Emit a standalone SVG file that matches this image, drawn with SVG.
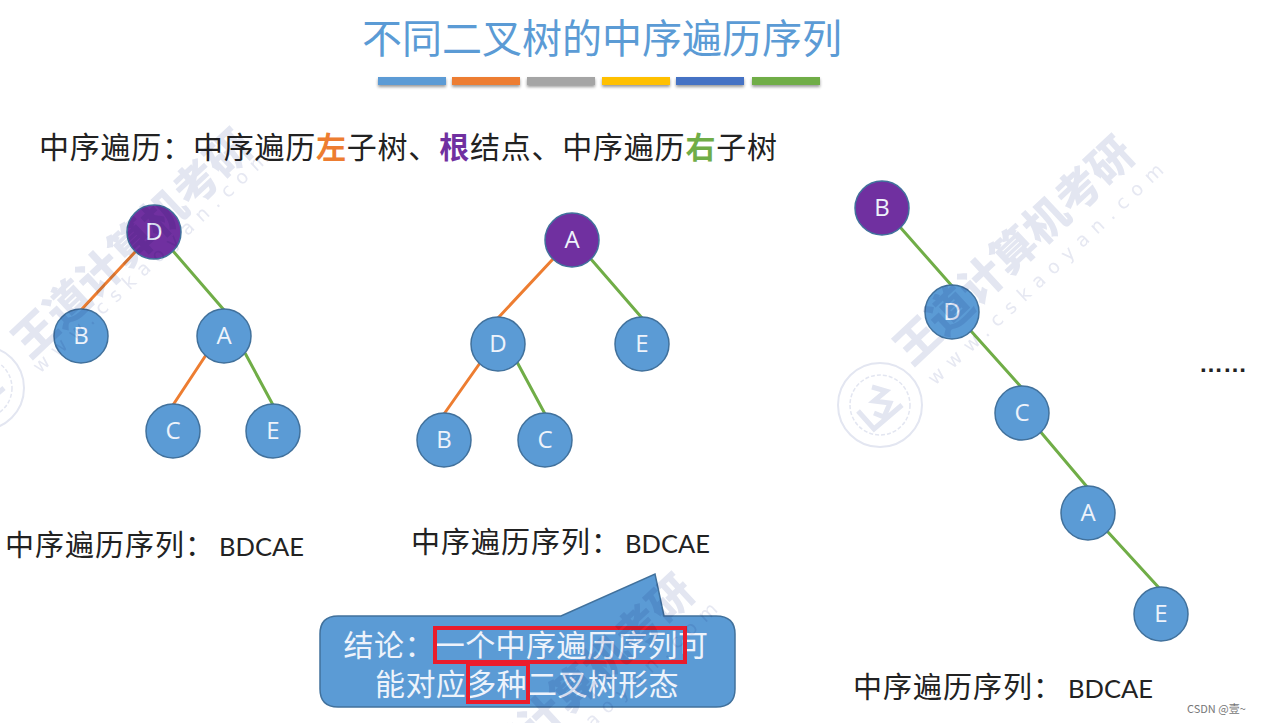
<svg xmlns="http://www.w3.org/2000/svg" width="1268" height="723" viewBox="0 0 1268 723">
<style>
text{font-family:"Noto Sans CJK SC","Noto Sans",sans-serif}
#watermarks{mix-blend-mode:multiply}
.wm{fill:#e3e6f1;font-size:44px;font-weight:900}
.wu{fill:#e6e8f2;font-size:19px;letter-spacing:8.5px;font-family:"DejaVu Sans",sans-serif}
.seal{fill:none;stroke:#e3e6f1}
.bar{filter:url(#sh)}
.n circle{stroke:#41719c;stroke-width:1.5}
.blue circle{fill:#5b9bd5}
.pur circle{fill:#7030a0}
.n text{fill:#eef3fb;font-size:24px;text-anchor:middle;font-family:"Open Sans",sans-serif}
.o{stroke:#ed7d31;stroke-width:3;fill:none}
.g{stroke:#70ad47;stroke-width:3;fill:none}
.cap{font-size:29px;letter-spacing:1px;fill:#222}
.la{font-family:Lato,sans-serif;font-size:25.5px;fill:#222}
.call{font-size:30px;letter-spacing:.4px;fill:#eef3fb;text-anchor:middle}
</style>
<defs>
<filter id="sh" x="-10%" y="-50%" width="120%" height="250%"><feDropShadow dx="0" dy="2" stdDeviation="1.5" flood-color="#000" flood-opacity=".4"/></filter>
<g id="seal">
<circle class="seal" r="42" stroke-width="2"/>
<circle class="seal" r="30" stroke-width="1.5" stroke-dasharray="4 2"/>
<path class="seal" stroke-width="5" d="M-8-18 6-14-6-4 10-2 4 12 -6 8M-22 6-6 24 22 0"/>
</g>
</defs>
<rect width="1268" height="723" fill="#fff"/>
<text id="title" x="362" y="53" font-size="40" fill="#5b9bd5">不同二叉树的中序遍历序列</text>
<g id="bars">
<rect class="bar" x="378" y="77" width="68" height="8" fill="#5b9bd5"/>
<rect class="bar" x="452" y="77" width="68" height="8" fill="#ed7d31"/>
<rect class="bar" x="527" y="77" width="68" height="8" fill="#a5a5a5"/>
<rect class="bar" x="602" y="77" width="68" height="8" fill="#ffc000"/>
<rect class="bar" x="676" y="77" width="68" height="8" fill="#4472c4"/>
<rect class="bar" x="752" y="77" width="68" height="8" fill="#70ad47"/>
</g>
<text id="subtitle" x="39" y="158" font-size="30" letter-spacing=".78" fill="#222">中序遍历：中序遍历<tspan fill="#ed7d31" font-weight="700">左</tspan>子树、<tspan fill="#7030a0" font-weight="700">根</tspan>结点、中序遍历<tspan fill="#70ad47" font-weight="700">右</tspan>子树</text>
<g id="connectors">
<path class="o" d="M136 251 81 310M206 355 173 405M553 259 498 318M480 363 444 414"/>
<path class="g" d="M173 251 224 310M245 353 273 405M590 258 642 318M517 362 545 414M900 227 952 286M971 331 1022 388M1039 430 1088 488M1107 531 1161 590"/>
</g>
<g id="t1-D" class="n pur"><circle cx="154" cy="232" r="27"/><text x="154" y="240">D</text></g>
<g id="t1-B" class="n blue"><circle cx="81" cy="336" r="27"/><text x="81" y="344">B</text></g>
<g id="t1-A" class="n blue"><circle cx="224" cy="336" r="27"/><text x="224" y="344">A</text></g>
<g id="t1-C" class="n blue"><circle cx="173" cy="431" r="27"/><text x="173" y="439">C</text></g>
<g id="t1-E" class="n blue"><circle cx="273" cy="431" r="27"/><text x="273" y="439">E</text></g>
<g id="t2-A" class="n pur"><circle cx="572" cy="240" r="27"/><text x="572" y="248">A</text></g>
<g id="t2-D" class="n blue"><circle cx="498" cy="344" r="27"/><text x="498" y="352">D</text></g>
<g id="t2-E" class="n blue"><circle cx="642" cy="344" r="27"/><text x="642" y="352">E</text></g>
<g id="t2-B" class="n blue"><circle cx="444" cy="440" r="27"/><text x="444" y="448">B</text></g>
<g id="t2-C" class="n blue"><circle cx="545" cy="440" r="27"/><text x="545" y="448">C</text></g>
<g id="t3-B" class="n pur"><circle cx="882" cy="208" r="27"/><text x="882" y="216">B</text></g>
<g id="t3-D" class="n blue"><circle cx="952" cy="312" r="27"/><text x="952" y="320">D</text></g>
<g id="t3-C" class="n blue"><circle cx="1022" cy="413" r="27"/><text x="1022" y="421">C</text></g>
<g id="t3-A" class="n blue"><circle cx="1088" cy="513" r="27"/><text x="1088" y="521">A</text></g>
<g id="t3-E" class="n blue"><circle cx="1161" cy="614" r="27"/><text x="1161" y="622">E</text></g>
<text class="cap" x="5" y="556">中序遍历序列：</text><text class="la" x="219" y="556">BDCAE</text>
<text class="cap" x="411" y="553">中序遍历序列：</text><text class="la" x="625" y="553">BDCAE</text>
<text class="cap" x="853" y="698">中序遍历序列：</text><text class="la" x="1068" y="698">BDCAE</text>
<text id="dots" x="1199" y="372" font-size="24" font-weight="700" style="font-family:'Liberation Sans',sans-serif" fill="#222">……</text>
<g id="callout">
<path d="M338 616H561L655 574 664 616H716Q735 616 735 634V689Q735 707 716 707H338Q320 707 320 689V634Q320 616 338 616Z" fill="#5b9bd5" stroke="#41719c" stroke-width="1.5"/>
<text class="call" x="526" y="656">结论：一个中序遍历序列可</text>
<text class="call" x="527" y="695">能对应多种二叉树形态</text>
<rect x="435" y="628" width="250" height="34" fill="none" stroke="#ea1c2c" stroke-width="4"/>
<rect x="468" y="664" width="60" height="38" fill="none" stroke="#ea1c2c" stroke-width="4"/>
</g>
<text id="credit" x="1187" y="713" font-size="11" fill="#777">CSDN @壹~</text>
<g id="watermarks">
<text class="wm" transform="translate(30 360) rotate(-43)">王道计算机考研</text>
<text class="wu" transform="translate(40 374) rotate(-43)">www.cskaoyan.com</text>
<use href="#seal" x="-18" y="388"/>
<text class="wm" transform="translate(912 367) rotate(-43)">王道计算机考研</text>
<text class="wu" transform="translate(935 386) rotate(-43)">www.cskaoyan.com</text>
<use href="#seal" x="880" y="405"/>
<text class="wm" transform="translate(472 805) rotate(-43)">王道计算机考研</text>
<text class="wu" transform="translate(489 825) rotate(-43)">www.cskaoyan.com</text>
</g>
</svg>
